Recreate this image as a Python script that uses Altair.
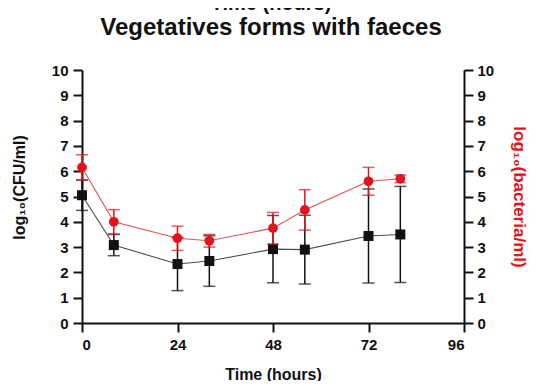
import altair as alt
import pandas as pd

# Time points (hours)
time = [0, 8, 24, 32, 48, 56, 72, 80]
# log10(CFU/ml) - black squares
cfu_mean = [5.05, 3.08, 2.33, 2.45, 2.92, 2.90, 3.44, 3.50]
cfu_err = [0.60, 0.42, 1.05, 1.00, 1.33, 1.36, 1.86, 1.90]
# log10(bacteria/ml) - red circles
bac_mean = [6.15, 4.00, 3.35, 3.25, 3.75, 4.47, 5.60, 5.70]
bac_err = [0.50, 0.48, 0.48, 0.25, 0.62, 0.80, 0.55, 0.15]

x_ticks = [0, 24, 48, 72, 96]
y_ticks = list(range(0, 11))

df_b = pd.DataFrame({"t": time, "m": cfu_mean,
                     "lo": [m - e for m, e in zip(cfu_mean, cfu_err)],
                     "hi": [m + e for m, e in zip(cfu_mean, cfu_err)]})
df_r = pd.DataFrame({"t": time, "m": bac_mean,
                     "lo": [m - e for m, e in zip(bac_mean, bac_err)],
                     "hi": [m + e for m, e in zip(bac_mean, bac_err)]})

BLACK = "#111111"
RED = "#e3121b"

xs = alt.Scale(domain=[0, 96], nice=False, zero=False)
ys = alt.Scale(domain=[0, 10], nice=False)
xax = alt.Axis(values=x_ticks, title="Time (hours)", labelPadding=5, titlePadding=14)
axL = alt.Axis(values=y_ticks, title="log₁₀(CFU/ml)", orient="left", titlePadding=24,
               labelPadding=5, titleY=117)
axR = alt.Axis(values=y_ticks, title="log₁₀(bacteria/ml)", orient="right",
               titlePadding=16, titleColor=RED, labelPadding=4, titleFontSize=17)

X = alt.X("t:Q", scale=xs, axis=xax)


def series(df, color, shape, size, ax):
    base = alt.Chart(df)
    err = base.mark_errorbar(ticks=alt.MarkConfig(size=12), color=color, thickness=1.5).encode(
        x=X, y=alt.Y("lo:Q", scale=ys, axis=ax), y2="hi:Q")
    line = base.mark_line(color=color, strokeWidth=1.1, opacity=0.75).encode(
        x=X, y=alt.Y("m:Q", scale=ys, axis=ax))
    pts = base.mark_point(shape=shape, filled=True, size=size, color=color, opacity=1).encode(
        x=X, y=alt.Y("m:Q", scale=ys, axis=ax))
    return alt.layer(err, line, pts)


black = series(df_b, BLACK, "square", 100, axL)
red = series(df_r, RED, "circle", 95, axR)

chart = alt.layer(black, red).resolve_scale(y="independent").properties(
    width=382, height=253,
    title=alt.TitleParams(
        "Time (hours)", subtitle="Vegetatives forms with faeces",
        font="Liberation Sans", fontSize=20, fontWeight="bold", color=BLACK,
        subtitleFont="Liberation Sans", subtitleFontSize=24, subtitleFontWeight="bold",
        subtitleColor=BLACK, subtitlePadding=2, offset=23, dx=-2, anchor="middle"),
    autosize=alt.AutoSizeParams(type="none"),
    padding={"left": 74, "top": 62, "right": 68, "bottom": 58},
).configure_view(stroke=None).configure_axis(
    grid=False, labelFont="Liberation Sans", labelFontWeight="bold", labelFontSize=15,
    labelColor=BLACK, titleFont="Liberation Sans", titleFontWeight="bold", titleFontSize=16,
    titleColor=BLACK, domainColor=BLACK, domainWidth=2, tickColor=BLACK, tickWidth=2,
    tickSize=9
)

chart.save("out.html", embed_options={"renderer": "svg", "actions": False})
